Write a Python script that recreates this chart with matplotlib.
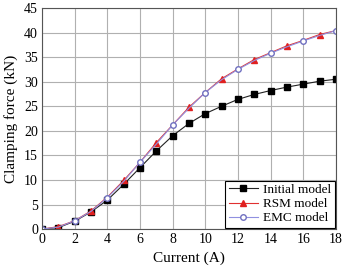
import matplotlib
matplotlib.use('Agg')
import matplotlib.pyplot as plt

current = list(range(19))
initial = [0, 0.3, 1.6, 3.5, 5.9, 9.1, 12.5, 15.9, 19.0, 21.5, 23.5, 25.0, 26.4,
           27.4, 28.2, 28.9, 29.5, 30.1, 30.5]
rsm = [0, 0.5, 1.7, 3.7, 6.5, 9.9, 13.6, 17.6, 21.2, 24.8, 27.8, 30.6, 32.6,
       34.5, 35.9, 37.3, 38.4, 39.6, 40.4]
emc = [0, 0.4, 1.7, 3.6, 6.4, 9.7, 13.6, 17.3, 21.2, 24.6, 27.8, 30.4, 32.5,
       34.3, 35.8, 37.1, 38.3, 39.4, 40.4]

plt.rcParams['font.family'] = ['Liberation Serif', 'DejaVu Serif']

fig = plt.figure(figsize=(3.42, 2.67), dpi=100)
ax = fig.add_axes([0.123, 0.142, 0.859, 0.828])

ax.plot(current, initial, color='#222222', lw=0.8, marker='s', ms=3.8,
        mfc='black', mec='black', label='Initial model')
ax.plot(current, rsm, color='#e03030', lw=0.8, marker='^', ms=4.5,
        mfc='#e02020', mec='#e02020', markevery=slice(1, None, 2), label='RSM model')
ax.plot(current, emc, color='#9090e0', lw=0.8, marker='o', ms=4,
        mfc='white', mec='#7070c0', markevery=slice(0, None, 2), label='EMC model')

ax.set_xlim(0, 18)
ax.set_ylim(0, 45)
ax.set_xticks(range(0, 19, 2))
ax.set_yticks(range(0, 46, 5))
ax.grid(True, color='#b0b0b0', lw=0.8)
ax.tick_params(labelsize=10, length=0, pad=3)
for s in ax.spines.values():
    s.set_color('#555555')
    s.set_linewidth(0.8)

ax.set_xlabel('Current (A)', fontsize=11, labelpad=4)
ax.set_ylabel('Clamping force (kN)', fontsize=11, labelpad=4)

leg = ax.legend(loc='lower right', fontsize=9.5, fancybox=False, framealpha=1,
                edgecolor='black', borderpad=0.25, labelspacing=0.15,
                handlelength=2.2, handletextpad=0.4, borderaxespad=0.1)
leg.get_frame().set_linewidth(0.8)

fig.savefig('out.png', dpi=100)
